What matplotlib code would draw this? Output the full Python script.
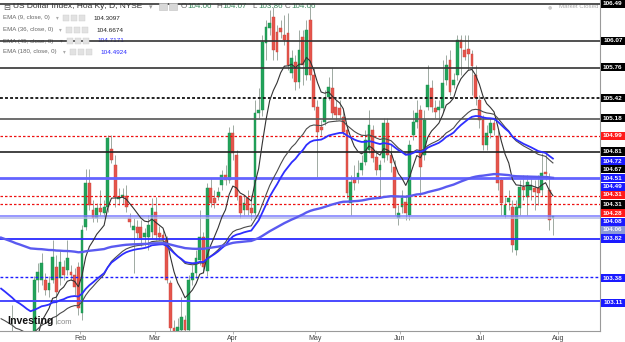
import matplotlib
matplotlib.use("Agg")
import matplotlib.pyplot as plt
import matplotlib.transforms as mtransforms
from matplotlib.patches import Rectangle
import numpy as np

plt.rcParams['font.family'] = ['Liberation Sans', 'DejaVu Sans']

### daily candles, early Jan .. Aug 1
opens = [101.90, 102.20, 102.50, 102.40, 102.40, 102.20, 102.55, 102.40, 102.30, 102.40,
         103.35, 103.35, 103.35, 103.24, 103.35, 103.50, 103.37, 103.50, 103.46, 103.44,
         103.41, 103.50, 102.97, 103.95, 104.45, 104.15, 104.06, 104.17, 104.11, 104.18,
         104.84, 104.66, 104.27, 104.29, 104.31, 104.06, 103.92, 103.95, 103.95, 103.84,
         103.84, 103.90, 104.12, 103.88, 103.86, 103.81, 103.32, 102.80, 102.75, 102.78,
         102.90, 102.78, 103.35, 103.43, 103.58, 103.84, 103.45, 104.40, 104.28, 104.29,
         104.43, 104.54, 104.49, 105.02, 104.77, 104.30, 104.15, 104.28, 104.17, 104.11,
         105.25, 105.28, 106.05, 106.22, 106.34, 106.17, 106.22, 106.14, 106.16, 105.71,
         105.83, 105.60, 106.11, 105.68, 106.31, 105.68, 105.32, 105.09, 105.15, 105.43,
         105.53, 105.32, 105.31, 105.20, 105.06, 104.23, 104.51, 104.51, 104.60, 104.69,
         104.83, 105.06, 104.75, 104.60, 104.74, 105.14, 104.77, 104.64, 104.06, 104.18,
         104.24, 104.09, 105.00, 105.15, 105.28, 104.77, 105.32, 105.53, 105.31, 105.28,
         105.31, 105.62, 105.85, 105.57, 105.68, 106.08, 105.97, 105.98, 105.92, 105.68,
         105.40, 105.17, 104.89, 105.02, 105.14, 104.99, 104.49, 104.09, 104.24, 104.18,
         103.69, 104.17, 104.41, 104.29, 104.37, 104.40, 104.40, 104.37, 104.58, 104.37,
         104.06]
highs = [102.30, 102.70, 102.70, 103.07, 102.55, 102.65, 102.65, 102.60, 102.60, 103.40,
         103.54, 103.66, 103.43, 103.39, 103.81, 103.63, 103.69, 103.58, 103.81, 103.52,
         103.49, 103.55, 103.98, 104.61, 104.61, 104.26, 104.23, 104.37, 104.26, 105.00,
         105.00, 104.77, 104.40, 104.40, 104.43, 104.11, 104.06, 104.03, 104.03, 103.94,
         104.09, 104.28, 104.29, 103.97, 103.92, 103.85, 103.35, 102.90, 102.92, 103.16,
         102.95, 103.41, 103.52, 103.69, 104.15, 103.90, 104.45, 104.51, 104.37, 104.41,
         104.60, 104.66, 105.09, 105.11, 104.83, 104.32, 104.31, 104.37, 104.32, 105.40,
         105.53, 106.14, 106.31, 106.42, 106.46, 106.25, 106.31, 106.36, 106.39, 105.97,
         105.91, 106.19, 106.19, 106.31, 106.48, 105.76, 105.40, 105.17, 105.51, 105.66,
         105.76, 105.40, 105.40, 105.28, 105.11, 104.54, 104.66, 104.71, 104.77, 105.06,
         105.28, 105.11, 104.83, 104.71, 105.19, 105.19, 104.89, 104.71, 104.20, 104.37,
         104.32, 104.94, 105.28, 105.40, 105.34, 105.28, 105.80, 105.63, 105.40, 105.40,
         105.85, 105.91, 105.97, 105.71, 106.14, 106.14, 106.14, 106.14, 105.97, 105.80,
         105.45, 105.23, 105.11, 105.19, 105.19, 105.06, 104.52, 104.29, 104.37, 104.26,
         104.26, 104.49, 104.54, 104.54, 104.51, 104.49, 104.54, 104.79, 104.79, 104.57,
         104.07]
lows = [101.35, 102.10, 102.20, 102.10, 102.10, 102.00, 102.20, 101.80, 102.20, 102.40,
        103.21, 103.29, 103.18, 103.16, 103.32, 102.85, 103.29, 103.35, 103.41, 103.35,
        103.18, 102.95, 102.90, 103.92, 104.15, 104.01, 104.01, 104.09, 104.07, 104.12,
        104.68, 104.18, 104.20, 104.22, 104.12, 103.95, 103.43, 103.83, 103.74, 103.74,
        103.69, 103.83, 103.81, 103.81, 103.77, 103.32, 102.60, 102.55, 102.35, 102.70,
        102.70, 102.74, 103.29, 103.37, 103.52, 103.43, 103.40, 104.18, 104.17, 104.26,
        104.37, 104.43, 104.45, 104.71, 104.26, 104.06, 104.09, 104.09, 104.03, 104.09,
        105.19, 105.22, 105.85, 106.14, 105.85, 105.85, 106.10, 106.02, 105.74, 105.65,
        105.51, 105.53, 105.57, 105.63, 105.63, 105.28, 104.52, 105.00, 105.11, 105.40,
        105.19, 105.17, 105.19, 105.00, 104.28, 104.09, 104.37, 104.45, 104.54, 104.66,
        104.80, 104.69, 104.54, 104.31, 104.69, 104.71, 104.58, 104.09, 103.98, 104.11,
        104.03, 104.03, 104.94, 105.08, 104.31, 104.71, 105.28, 105.26, 105.19, 105.17,
        105.26, 105.57, 105.45, 105.53, 105.63, 105.68, 105.85, 105.74, 105.45, 105.34,
        105.08, 104.83, 104.83, 104.97, 105.00, 104.37, 104.09, 104.05, 104.15, 103.67,
        103.63, 104.09, 104.26, 104.09, 104.26, 104.15, 104.20, 104.31, 104.49, 103.92,
        103.86]
closes = [102.20, 102.50, 102.40, 102.40, 102.20, 102.55, 102.40, 102.30, 102.40, 103.35,
          103.44, 103.54, 103.24, 103.32, 103.61, 103.21, 103.55, 103.41, 103.60, 103.41,
          103.27, 103.03, 103.92, 104.45, 104.20, 104.06, 104.17, 104.12, 104.18, 104.97,
          104.72, 104.29, 104.29, 104.32, 104.18, 104.01, 103.96, 103.89, 103.83, 103.88,
          103.98, 104.17, 103.86, 103.84, 103.81, 103.35, 102.80, 102.75, 102.81, 102.93,
          102.78, 103.35, 103.43, 103.60, 103.84, 103.50, 104.40, 104.23, 104.23, 104.35,
          104.54, 104.49, 105.02, 104.80, 104.31, 104.11, 104.23, 104.15, 104.11, 105.25,
          105.28, 106.06, 106.23, 106.27, 105.97, 105.94, 106.17, 106.08, 105.80, 105.88,
          105.60, 105.97, 105.80, 106.19, 105.68, 105.32, 105.03, 105.06, 105.42, 105.55,
          105.25, 105.23, 105.23, 105.03, 104.34, 104.46, 104.45, 104.57, 104.68, 104.94,
          105.11, 104.74, 104.60, 104.66, 105.14, 104.77, 104.68, 104.17, 104.11, 104.28,
          104.11, 104.89, 105.15, 105.25, 104.64, 105.17, 105.57, 105.32, 105.26, 105.32,
          105.59, 105.80, 105.49, 105.62, 106.08, 105.99, 105.89, 105.92, 105.78, 105.42,
          105.17, 104.89, 105.02, 105.14, 105.06, 104.45, 104.23, 104.20, 104.28, 103.75,
          104.18, 104.41, 104.37, 104.46, 104.43, 104.35, 104.34, 104.57, 104.56, 104.03,
          104.06]

month_labels = ["Feb", "Mar", "Apr", "May", "Jun", "Jul", "Aug"]
month_pos = [21.5, 41.8, 63.0, 85.3, 108.4, 130.2, 151.4]

# EMA settings: period, value before first candle, colour, width, legend value
ema_periods = [9, 36, 45, 180]
ema_seeds = [102.0, 102.95, 103.3, 103.85]
ema_colors = ['#333333', '#4a4a4a', '#2e2eff', '#5a5af0']
ema_widths = [0.8, 0.8, 1.3, 1.7]
ema_texts = ["104.3097", "104.6674", "104.7171", "104.4924"]
ema_text_colors = ['#222222', '#222222', '#2b2bff', '#2b2bff']

# horizontal level lines drawn on the chart
level_values = [106.49, 106.07, 105.76, 105.42, 105.18, 104.99, 104.81, 104.51,
                104.31, 104.22, 104.08, 104.06, 103.82, 103.38, 103.11]
level_colors = ['#333333', '#333333', '#333333', '#111111', '#555555', '#ee1111', '#222222', '#6464ff',
                '#ee1111', '#ee1111', '#7a7aff', '#b4bbe6', '#2a2aff', '#1a1aff', '#4a4aff']
level_styles = ['-', '-', '-', ':', '-', '--', '-', '-',
                '--', '--', '-', '-', '-', '--', '-']
level_widths = [1.2, 1.2, 1.2, 1.3, 1.2, 0.9, 1.2, 2.0,
                0.9, 0.9, 1.1, 1.1, 1.3, 1.0, 1.4]

# price tags on the right scale
tag_texts = ["106.49", "106.07", "105.76", "105.42", "105.18", "104.99", "104.81", "104.72",
             "104.67", "104.51", "104.49", "104.31", "104.31", "104.28", "104.08", "104.06",
             "103.82", "103.38", "103.11"]
tag_pos = [106.49, 106.07, 105.77, 105.42, 105.19, 104.99, 104.81, 104.70,
           104.61, 104.51, 104.41, 104.32, 104.21, 104.11, 104.01, 103.92,
           103.82, 103.37, 103.09]
tag_colors = ['#000000', '#000000', '#000000', '#000000', '#000000', '#ff1a1a', '#000000', '#1a1aff',
              '#000000', '#1a1aff', '#1a1aff', '#ff1a1a', '#000000', '#ff1a1a', '#1a1aff', '#8c9ad8',
              '#1a1aff', '#1a1aff', '#1a1aff']


def ema(vals, n, seed):
    k = 2.0 / (n + 1)
    out = []
    e = seed
    for v in vals:
        e = e + k * (v - e)
        out.append(e)
    return out


def fpos(x, y):
    # pixel position in the 625x342 picture -> figure fraction
    return x / 625.0, 1 - y / 342.0


o = np.array(opens)
h = np.array(highs)
l = np.array(lows)
c = np.array(closes)
x = np.arange(len(c))

fig = plt.figure(figsize=(6.25, 3.42), dpi=100)
ax = fig.add_axes([0, 11 / 342.0, 600 / 625.0, 331 / 342.0])
ax.set_xlim(-0.3, 162.8)
ax.set_ylim(102.77, 106.535)

# candles
up = c >= o
body_col = np.where(up, '#22a35a', '#e5554c')
edge_col = np.where(up, '#1c8f4d', '#c9433b')
ax.vlines(x, l, h, color='#9eaaa2', lw=0.7, zorder=2)
ax.bar(x, np.maximum(np.abs(c - o), 0.015), bottom=np.minimum(o, c), width=0.76,
       color=body_col, edgecolor=edge_col, linewidth=0.3, zorder=2)

# level lines
for val, col, ls, lw in zip(level_values, level_colors, level_styles, level_widths):
    if ls == '--':
        ax.axhline(val, color=col, lw=lw, dashes=(2, 1.6), zorder=3)
    elif ls == ':':
        ax.axhline(val, color=col, lw=lw, dashes=(1.6, 1.2), zorder=3)
    else:
        ax.axhline(val, color=col, lw=lw, zorder=3)

# moving averages
for n, seed, col, lw in zip(ema_periods, ema_seeds, ema_colors, ema_widths):
    ax.plot(x, ema(closes, n, seed), color=col, lw=lw, zorder=4)

# axes look
for side in ['top', 'left']:
    ax.spines[side].set_visible(False)
ax.spines['right'].set_color('#9a9a9a')
ax.spines['bottom'].set_color('#9a9a9a')
ax.spines['right'].set_linewidth(0.8)
ax.spines['bottom'].set_linewidth(0.8)
ax.set_yticks([])
ax.set_xticks(month_pos)
ax.set_xticklabels(month_labels, fontsize=5, color='#444444')
ax.tick_params(axis='x', length=2, width=0.5, color='#999999', pad=1)

# right price tags
trans = mtransforms.blended_transform_factory(fig.transFigure, ax.transData)
for txt, p, col in zip(tag_texts, tag_pos, tag_colors):
    ax.add_patch(Rectangle((601 / 625.0, p - 4.2 / 87.9), 23.5 / 625.0, 8.4 / 87.9,
                           transform=trans, facecolor=col, edgecolor='none',
                           clip_on=False, zorder=6))
    ax.text(612.8 / 625.0, p, txt, transform=trans, ha='center', va='center',
            fontsize=4.6, color='white', fontweight='bold', clip_on=False, zorder=7)

# header
ax.text(*fpos(3, 7), "\u229f", transform=fig.transFigure, fontsize=6, color='#555555',
        va='center', ha='left', zorder=1, family=['DejaVu Sans'])
ax.text(*fpos(13, 7), "US Dollar Index, Hoa K\u1ef3, D, NYSE", transform=fig.transFigure,
        fontsize=6.0, color='#333333', va='center', ha='left', zorder=1)
ax.text(*fpos(149, 7), "\u25be", transform=fig.transFigure, fontsize=5, color='#999999',
        va='center', ha='left', zorder=1, family=['DejaVu Sans'])
for bx in [159, 169]:
    fig.patches.append(Rectangle(fpos(bx, 10), 8 / 625.0, 7 / 342.0, transform=fig.transFigure,
                                 facecolor='#d8d8d8', edgecolor='#c0c0c0', lw=0.4))
ohlc_letters = ["O", "H", "L", "C"]
ohlc_values = ["104.06", "104.07", "103.86", "104.06"]
ohlc_x = [181, 216, 252, 285]
for letter, val, px in zip(ohlc_letters, ohlc_values, ohlc_x):
    ax.text(*fpos(px, 7), letter, transform=fig.transFigure, fontsize=5.8, color='#666666',
            va='center', ha='left', zorder=1)
    ax.text(*fpos(px + 6.5, 7), val, transform=fig.transFigure, fontsize=5.8, color='#3b8a5e',
            va='center', ha='left', zorder=1)

# EMA legend
ema_rows = [18, 30, 41, 52]
ema_val_x = [93, 96, 97, 100]
for n, row, vx, vt, vc in zip(ema_periods, ema_rows, ema_val_x, ema_texts, ema_text_colors):
    ax.text(*fpos(3, row), "EMA (%d, close, 0)" % n, transform=fig.transFigure, fontsize=4.4,
            color='#666666', va='center', ha='left', zorder=1)
    ax.text(*fpos(vx - 37, row), "\u25be", transform=fig.transFigure, fontsize=4, color='#aaaaaa',
            va='center', ha='left', zorder=1, family=['DejaVu Sans'])
    for k in range(3):
        fig.patches.append(Rectangle(fpos(vx - 30 + k * 8, row + 3), 6 / 625.0, 6 / 342.0,
                                     transform=fig.transFigure, facecolor='#e2e2e2',
                                     edgecolor='#cccccc', lw=0.3, zorder=0))
    ax.text(*fpos(vx, row), vt, transform=fig.transFigure, fontsize=4.6, color=vc,
            va='center', ha='left', zorder=1)

# market status
ax.text(*fpos(598, 7), "Market Closed", transform=fig.transFigure, fontsize=4.4,
        color='#aaaaaa', va='center', ha='right', zorder=1)
ax.text(*fpos(552, 7), "\u25cf", transform=fig.transFigure, fontsize=3.5,
        color='#cccccc', va='center', ha='right', zorder=1, family=['DejaVu Sans'])

# logo
ax.text(*fpos(7, 321), "Investing", transform=fig.transFigure, fontsize=7.6, fontweight='bold',
        color='#111111', va='center', ha='left', zorder=5)
ax.text(*fpos(55, 322), ".com", transform=fig.transFigure, fontsize=5.5,
        color='#888888', va='center', ha='left', zorder=5)

fig.savefig("out.png", dpi=100)
